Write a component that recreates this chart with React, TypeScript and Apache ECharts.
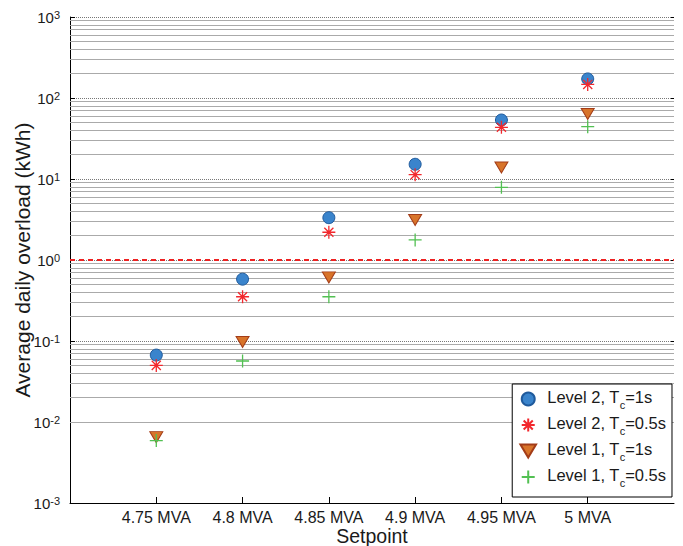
import React, { useEffect, useRef } from 'react';
import * as echarts from 'echarts';

const setpoints = ['4.75 MVA', '4.8 MVA', '4.85 MVA', '4.9 MVA', '4.95 MVA', '5 MVA'];
const level2Tc1 = [0.067, 0.58, 3.33, 15.2, 53.5, 172];
const level2Tc05 = [0.05, 0.352, 2.2, 11.3, 43.5, 147];
const level1Tc1 = [0.0065, 0.097, 0.61, 3.12, 13.9, 63.4];
const level1Tc05 = [0.0059, 0.0566, 0.352, 1.77, 7.9, 44.3];
const decades = [1e-3, 1e-2, 1e-1, 1, 10, 100];
const minorMultipliers = [2, 3, 4, 5, 6, 7, 8, 9];
const limitValue = 1;

const seriesNames = ['Level 2, Tc=1s', 'Level 2, Tc=0.5s', 'Level 1, Tc=1s', 'Level 1, Tc=0.5s'];

const ASTERISK = 'path://M5,0L5,10M0,5L10,5M1.5,1.5L8.5,8.5M8.5,1.5L1.5,8.5';
const PLUS = 'path://M5,0L5,10M0,5L10,5';
const TRI_DOWN = 'path://M0,0L12,0L6,10Z';

export default function App() {
  const ref = useRef<HTMLDivElement>(null);
  useEffect(() => {
    if (!ref.current) return;
    const chart = echarts.init(ref.current, null, { renderer: 'svg' });
    const cats = ['', ...setpoints, ''];
    const toData = (vals: number[]) => setpoints.map((s, i) => [s, vals[i]]);
    const minorValues: number[] = [];
    decades.forEach((d) => minorMultipliers.forEach((m) => minorValues.push(d * m)));
    const font = 'Liberation Sans, Arial, Helvetica, sans-serif';

    chart.setOption({
      animation: false,
      textStyle: { fontFamily: font },
      grid: { left: 70, right: 9, top: 17, bottom: 43, containLabel: false, outerBoundsMode: 'none' },
      legend: {
        orient: 'vertical',
        right: 11,
        bottom: 49,
        data: seriesNames,
        backgroundColor: '#fff',
        borderColor: '#000',
        borderWidth: 1,
        padding: [2, 6, 7, 7],
        itemWidth: 28,
        itemHeight: 13,
        itemGap: 0,
        formatter: (name: string) => {
          const [pre, post] = name.split('Tc');
          return `{a|${pre}T}{sub|c}{a|${post}}`;
        },
        textStyle: {
          color: '#1a1a1a',
          fontFamily: font,
          rich: {
            a: { fontSize: 16.5, lineHeight: 16, padding: [2, 0, 7, 0], color: '#1a1a1a', fontFamily: font },
            sub: { fontSize: 11, lineHeight: 11, padding: [13, 0, 1, 0], color: '#1a1a1a', fontFamily: font },
          },
        },
      },
      xAxis: {
        type: 'category',
        data: cats,
        boundaryGap: false,
        name: 'Setpoint',
        nameLocation: 'middle',
        nameGap: 23,
        nameMoveOverlap: false,
        nameTextStyle: { fontSize: 19.5, color: '#1a1a1a', fontFamily: font },
        axisLine: { show: true, lineStyle: { color: '#000', width: 1 } },
        axisTick: {
          show: true,
          inside: true,
          length: 6,
          interval: (_i: number, v: string) => v !== '',
          lineStyle: { color: '#000' },
        },
        axisLabel: {
          fontSize: 16,
          color: '#1a1a1a',
          margin: 6,
          interval: 0,
          fontFamily: font,
        },
        splitLine: { show: false },
      },
      yAxis: [
        {
          type: 'log',
          logBase: 10,
          min: 0.001,
          max: 1000,
          splitNumber: 6,
          name: 'Average daily overload (kWh)',
          nameLocation: 'middle',
          nameGap: 37,
          nameMoveOverlap: false,
          nameTextStyle: { fontSize: 21, color: '#1a1a1a', fontFamily: font },
          axisLine: { show: true, lineStyle: { color: '#000', width: 1 } },
          axisTick: { show: true, inside: true, length: 5, lineStyle: { color: '#000' } },
          axisLabel: {
            margin: 10,
            formatter: (v: number) => `{b|10}{s|${Math.round(Math.log10(v))}}`,
            rich: {
              b: { fontSize: 15, lineHeight: 15, padding: [6, 0, 0, 0], verticalAlign: 'bottom', color: '#1a1a1a', fontFamily: font },
              s: { fontSize: 11, lineHeight: 11, verticalAlign: 'top', color: '#1a1a1a', fontFamily: font },
            },
          },
          splitLine: { show: true, lineStyle: { color: '#777', type: 'dotted', width: 1 } },
        },
        {
          type: 'log',
          logBase: 10,
          min: 0.001,
          max: 1000,
          splitNumber: 6,
          position: 'right',
          axisLine: { show: false },
          axisTick: { show: true, inside: true, length: 3, lineStyle: { color: '#000' } },
          axisLabel: { show: false },
          splitLine: { show: false },
        },
      ],
      series: [
        {
          name: 'minorGrid',
          type: 'scatter',
          data: [],
          silent: true,
          markLine: {
            silent: true,
            symbol: 'none',
            z: 1,
            label: { show: false },
            lineStyle: { color: '#aaaaaa', type: 'solid', width: 1 },
            data: minorValues.map((v) => ({ yAxis: v })),
          },
        },
        {
          name: 'limit',
          type: 'scatter',
          data: [],
          silent: true,
          markLine: {
            silent: true,
            symbol: 'none',
            z: 2,
            label: { show: false },
            lineStyle: { color: '#ee2222', type: [5, 4], width: 2 },
            data: [{ yAxis: limitValue }],
          },
        },
        {
          name: seriesNames[0],
          type: 'scatter',
          z: 3,
          data: toData(level2Tc1),
          symbol: 'circle',
          symbolSize: 12,
          itemStyle: { color: '#3a84cc', borderColor: '#1f5a9c', borderWidth: 1, opacity: 1 },
        },
        {
          name: seriesNames[1],
          type: 'scatter',
          z: 4,
          data: toData(level2Tc05),
          symbol: ASTERISK,
          symbolSize: 13,
          itemStyle: { color: 'none', borderColor: '#f2282d', borderWidth: 1.3, opacity: 1 },
        },
        {
          name: seriesNames[2],
          type: 'scatter',
          z: 5,
          data: toData(level1Tc1),
          symbol: TRI_DOWN,
          symbolSize: [13, 11],
          itemStyle: { color: '#d8742a', borderColor: '#a33c18', borderWidth: 1, opacity: 1 },
        },
        {
          name: seriesNames[3],
          type: 'scatter',
          z: 6,
          data: toData(level1Tc05),
          symbol: PLUS,
          symbolSize: 13,
          itemStyle: { color: 'none', borderColor: '#52c052', borderWidth: 1.3, opacity: 1 },
        },
      ],
    });
    return () => chart.dispose();
  }, []);
  return <div ref={ref} style={{ width: 683, height: 546, position: 'absolute', left: 0, top: 0 }} />;
}
